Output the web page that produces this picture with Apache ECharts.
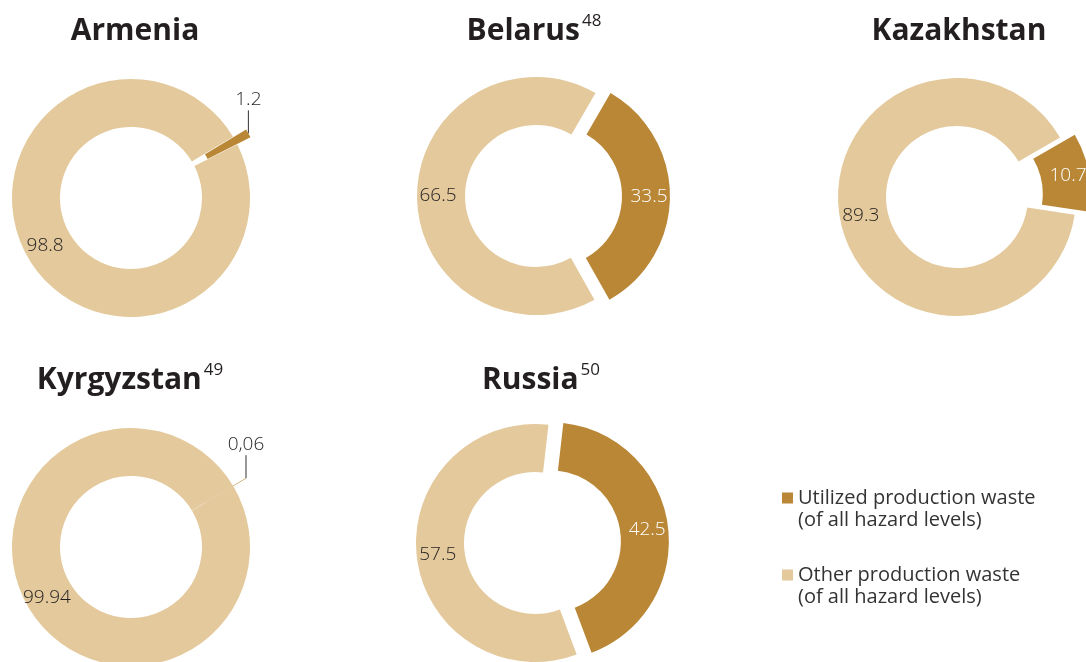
<!DOCTYPE html>
<html>
<head>
<meta charset="utf-8">
<script src="https://cdn.jsdelivr.net/npm/echarts@6/dist/echarts.min.js"></script>
<style>
  html, body { margin: 0; padding: 0; background: #fff; }
  #chart { width: 1086px; height: 662px; }
</style>
</head>
<body>
<div id="chart"></div>
<script>
// values (% of production waste)
var countries = ['Armenia', 'Belarus', 'Kazakhstan', 'Kyrgyzstan', 'Russia'];
var footnotes = ['', '48', '', '49', '50'];
var utilized = [1.2, 33.5, 10.7, 0.06, 42.5];
var other = [98.8, 66.5, 89.3, 99.94, 57.5];
var utilizedText = ['1.2', '33.5', '10.7', '0,06', '42.5'];
var otherText = ['98.8', '66.5', '89.3', '99.94', '57.5'];
var legendNames = ['Utilized production waste\n(of all hazard levels)', 'Other production waste\n(of all hazard levels)'];

// layout
var centers = [[131, 198], [536, 196], [957, 197], [131, 547], [535, 543]];
var titleX = [135, 534, 959, 130, 541];
var startAngles = [31, 60, 30, 31, 83.5];
var colors = ['#b98736', '#e3c99b'];
var FONT = 'Open Sans';

var chart = echarts.init(document.getElementById('chart'));

var titles = [];
var series = [];

countries.forEach(function (name, i) {
  var c = centers[i];
  titles.push({
    text: '{t|' + name + '}' + (footnotes[i] ? '{s|' + footnotes[i] + '}' : ''),
    left: titleX[i] - 5,
    top: i < 3 ? 6 : 355,
    textAlign: 'center',
    textStyle: {
      rich: {
        t: { fontFamily: FONT, fontSize: 30, fontWeight: 700, color: '#231f20', lineHeight: 40 },
        s: { fontFamily: FONT, fontSize: 17, fontWeight: 500, color: '#231f20', verticalAlign: 'top', padding: [2, 0, 0, 2] }
      }
    }
  });

  var tiny = utilized[i] < 5;
  var s = {
    type: 'pie',
    center: c,
    radius: [71, 119],
    startAngle: startAngles[i],
    selectedMode: 'single',
    selectedOffset: 15,
    avoidLabelOverlap: false,
    animation: false,
    emphasis: { disabled: true },
    label: {
      position: 'inside',
      fontFamily: FONT,
      fontSize: 19,
      fontWeight: 300,
      color: '#231f20'
    },
    labelLine: { show: false },
    data: [
      {
        name: legendNames[0],
        value: utilized[i],
        selected: true,
        itemStyle: { color: colors[0] },
        label: tiny
          ? { position: 'outside', formatter: utilizedText[i] }
          : { color: '#fff', formatter: utilizedText[i] },
        labelLine: tiny ? { show: true, length: 10, length2: 0, lineStyle: { color: '#333', width: 1 } } : { show: false }
      },
      {
        name: legendNames[1],
        value: other[i],
        itemStyle: { color: colors[1] },
        label: { formatter: otherText[i] }
      }
    ]
  };
  if (tiny) {
    // put the small value straight above its slice, with a vertical leader
    s.labelLayout = function (p) {
      if (p.dataIndex !== 0 || !p.labelLinePoints) return {};
      var p0 = p.labelLinePoints[0];
      var r = p.labelRect;
      return {
        dx: p0[0] - (r.x + r.width / 2),
        dy: (p0[1] - 34) - (r.y + r.height / 2),
        labelLinePoints: [[p0[0], p0[1]], [p0[0], p0[1] - 23], [p0[0], p0[1] - 23]]
      };
    };
  }
  series.push(s);
});

chart.setOption({
  backgroundColor: '#fff',
  title: titles,
  legend: {
    data: legendNames,
    orient: 'vertical',
    left: 777,
    top: 460,
    icon: 'rect',
    itemWidth: 11,
    itemHeight: 11,
    itemGap: 11,
    selectedMode: false,
    formatter: function (name) { return '\n' + name; },
    textStyle: {
      fontFamily: FONT,
      fontSize: 20,
      color: '#333',
      lineHeight: 22
    }
  },
  series: series
});
</script>
</body>
</html>
